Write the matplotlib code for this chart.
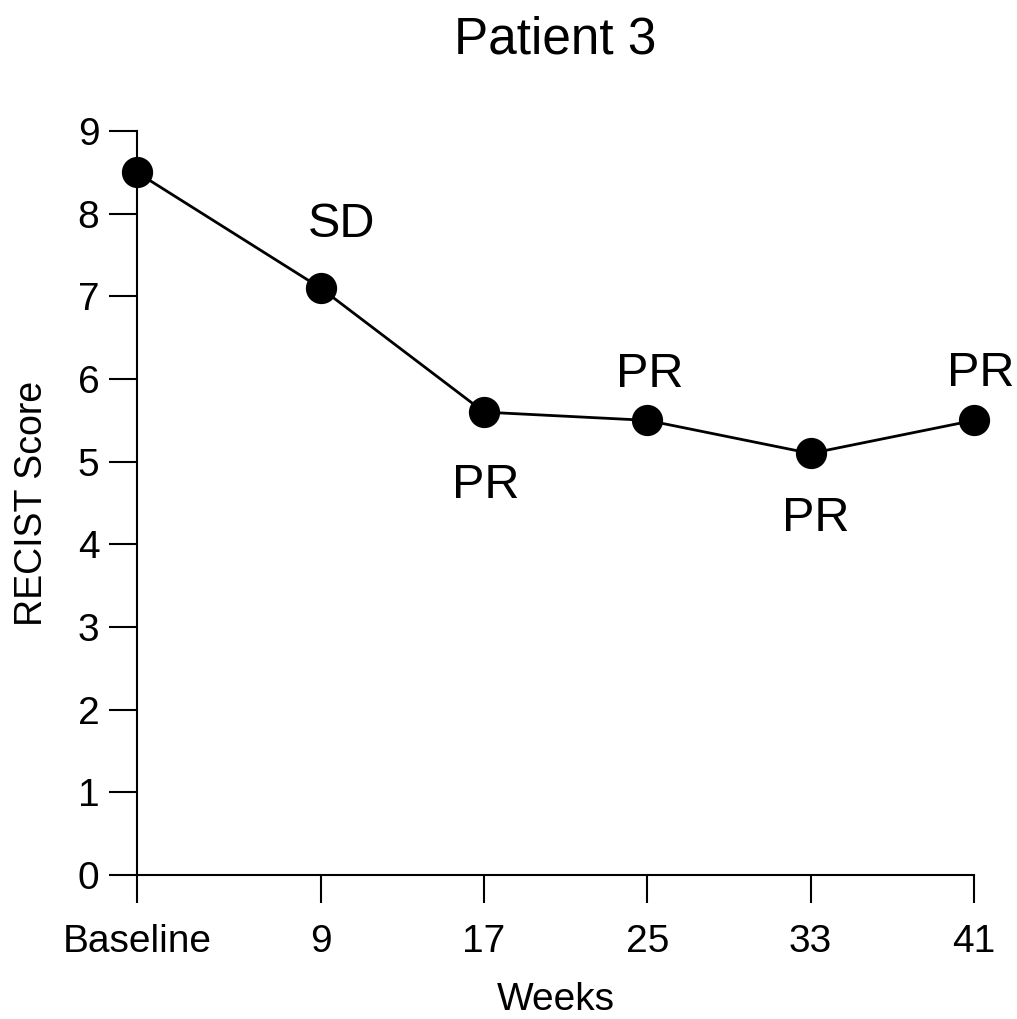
import matplotlib.pyplot as plt

plt.rcParams['font.family'] = ['Liberation Sans', 'DejaVu Sans']

weeks = [0, 9, 17, 25, 33, 41]
week_labels = ["Baseline", "9", "17", "25", "33", "41"]
recist = [8.5, 7.1, 5.6, 5.5, 5.1, 5.5]
responses = ["", "SD", "PR", "PR", "PR", "PR"]

# label offsets (points, baseline) relative to each marker
offsets = [(0, 0), (15, 37), (1, -62), (2, 24), (4, -56), (5, 25)]

fig = plt.figure(figsize=(10.17, 10.19), dpi=100)
ax = fig.add_axes([0.1347, 0.1413, 0.823, 0.7301])

ax.plot(weeks, recist, color='black', lw=2, marker='o', markersize=21.5, clip_on=False)

for x, y, txt, off in zip(weeks, recist, responses, offsets):
    if txt:
        ax.annotate(txt, (x, y), xytext=off, textcoords='offset points',
                    ha='center', va='baseline', fontsize=35)

ax.set_xlim(0, 41)
ax.set_ylim(0, 9)
ax.set_xticks(weeks)
ax.set_xticklabels(week_labels)
ax.set_yticks(range(10))

for s in ['top', 'right']:
    ax.spines[s].set_visible(False)
for s in ['left', 'bottom']:
    ax.spines[s].set_linewidth(1.5)

ax.tick_params(length=20, width=1.5, labelsize=28)
ax.tick_params(axis='x', pad=15)
ax.tick_params(axis='y', pad=7)
ax.set_xlabel("Weeks", fontsize=28, labelpad=16)
ax.set_ylabel("RECIST Score", fontsize=27, labelpad=20)
ax.set_title("Patient 3", fontsize=37, pad=56)

fig.savefig("out.png", dpi=100)
